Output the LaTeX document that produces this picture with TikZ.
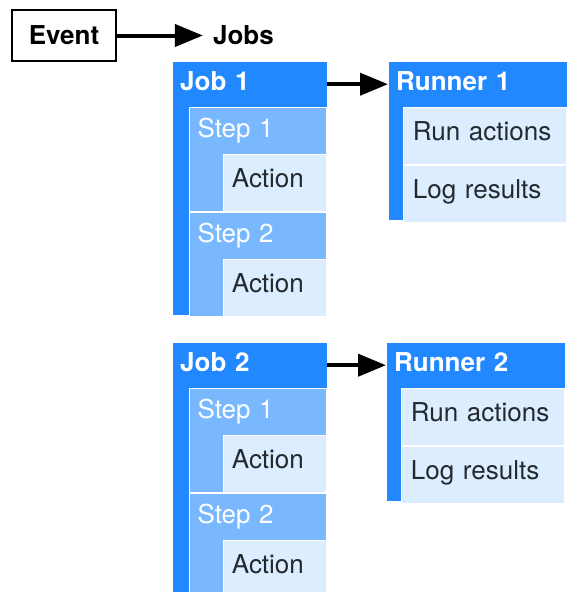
\documentclass[tikz,border=0pt]{standalone}
\usepackage{fontspec}
\setmainfont{TeX Gyre Heros}
\usetikzlibrary{positioning, arrows.meta}

\definecolor{jobblue}{HTML}{2188FF}
\definecolor{stepblue}{HTML}{79B8FF}
\definecolor{actionblue}{HTML}{DBEDFF}
\definecolor{textgray}{HTML}{24292E}

\begin{document}
\begin{tikzpicture}[
  x=1pt, y=1pt,
  every node/.style={font=\fontsize{26}{30}\selectfont, text height=18pt},
  eventbox/.style={rectangle, draw=black, line width=1.8pt, fill=white, minimum width=104pt, minimum height=51pt, font=\fontsize{26}{30}\selectfont\bfseries},
  jobsword/.style={inner xsep=10pt, font=\fontsize{26}{30}\selectfont\bfseries},
  jobbox/.style={rectangle, fill=jobblue, draw=white, line width=1pt, minimum width=155pt, minimum height=254pt, inner sep=0pt},
  jobhead/.style={rectangle, minimum height=46pt, text width=139pt, inner xsep=8pt, align=left, text=white, text depth=5pt, font=\fontsize{26}{30}\selectfont\bfseries},
  stepbox/.style={rectangle, fill=stepblue, draw=white, line width=1pt, minimum width=137pt, minimum height=104pt, inner sep=0pt},
  stephead/.style={rectangle, minimum height=47pt, text width=121pt, inner xsep=8pt, align=left, text=white, text depth=5pt},
  actionbox/.style={rectangle, fill=actionblue, draw=white, line width=1pt, minimum height=57pt, text width=87pt, inner xsep=8pt, align=left, text=textgray, text depth=10pt},
  runnerbox/.style={rectangle, fill=jobblue, draw=white, line width=1pt, minimum width=179pt, minimum height=159pt, inner sep=0pt},
  runnerhead/.style={jobhead, text width=163pt},
  rowbox/.style={actionbox, text width=145pt, inner xsep=9pt},
  link/.style={-{Triangle[length=28pt,width=22pt]}, line width=4pt},
]
\useasboundingbox (0,0) rectangle (566,-592);

%%% Event
\node[eventbox] (event) at (64,-35.5) {Event};
\node[jobsword] (jobs) [right=86pt of event] {Jobs};

%%% Job 1
\node[jobbox, anchor=north west] (job1) at (172,-61) {};
\node[jobhead, anchor=north west] (job1head) at (job1.north west) {Job 1};
\node[stepbox, anchor=north east] (job1step1) at (job1head.south east) {};
\node[stephead, anchor=north west] (job1step1head) at (job1step1.north west) {Step 1};
\node[actionbox, anchor=south east] (job1action1) at (job1step1.south east) {Action};
\node[stepbox, anchor=north] (job1step2) at (job1step1.south) {};
\node[stephead, anchor=north west] (job1step2head) at (job1step2.north west) {Step 2};
\node[actionbox, anchor=south east] (job1action2) at (job1step2.south east) {Action};

%%% Runner 1
\node[runnerbox, anchor=north west] (runner1) at ([xshift=60pt]job1.north east) {};
\node[runnerhead, anchor=north west] (runner1head) at (runner1.north west) {Runner 1};
\node[rowbox, anchor=north east] (runner1run) at (runner1head.south east) {Run actions};
\node[rowbox, anchor=north] (runner1log) at (runner1run.south) {Log results};

%%% Job 2
\node[jobbox] (job2) [below=26pt of job1] {};
\node[jobhead, anchor=north west] (job2head) at (job2.north west) {Job 2};
\node[stepbox, anchor=north east] (job2step1) at (job2head.south east) {};
\node[stephead, anchor=north west] (job2step1head) at (job2step1.north west) {Step 1};
\node[actionbox, anchor=south east] (job2action1) at (job2step1.south east) {Action};
\node[stepbox, anchor=north] (job2step2) at (job2step1.south) {};
\node[stephead, anchor=north west] (job2step2head) at (job2step2.north west) {Step 2};
\node[actionbox, anchor=south east] (job2action2) at (job2step2.south east) {Action};

%%% Runner 2
\node[runnerbox, anchor=north west] (runner2) at ([xshift=58pt]job2.north east) {};
\node[runnerhead, anchor=north west] (runner2head) at (runner2.north west) {Runner 2};
\node[rowbox, anchor=north east] (runner2run) at (runner2head.south east) {Run actions};
\node[rowbox, anchor=north] (runner2log) at (runner2run.south) {Log results};

%%% Arrows
\draw[link] (event) -- (jobs);
\draw[link] (job1head) -- (runner1head);
\draw[link] (job2head) -- (runner2head);

\end{tikzpicture}
\end{document}
